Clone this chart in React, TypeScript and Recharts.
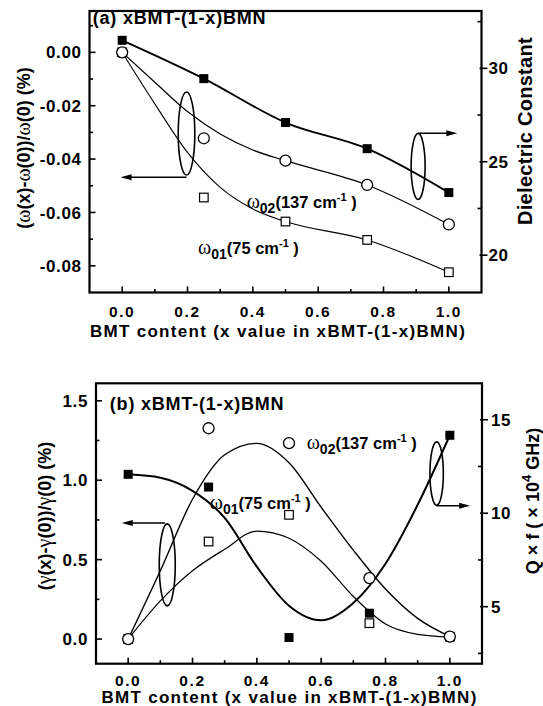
import React from 'react';
import { ComposedChart, Line, Scatter, XAxis, YAxis, ReferenceDot, ReferenceLine } from 'recharts';

// ---------- data ----------
const X_CONTENT = [0, 0.25, 0.5, 0.75, 1.0];

// Panel (a)
const A_DIELECTRIC = [31.5, 29.45, 27.1, 25.7, 23.35];
const A_OMEGA02 = [0, -0.0322, -0.0406, -0.0497, -0.0645];
const A_OMEGA01 = [0, -0.0544, -0.0634, -0.0703, -0.0824];
const A_FIT_X = [0, 0.1, 0.2, 0.3, 0.4, 0.5, 0.75, 1.0];
const A_FIT02 = [0, -0.0112, -0.0222, -0.0306, -0.0366, -0.0406, -0.0497, -0.0645];
const A_FIT01 = [0, -0.0193, -0.0375, -0.0506, -0.0587, -0.0634, -0.0703, -0.0824];

// Panel (b)
const B_QF = [12.08, 11.4, 3.35, 4.65, 14.17];
const B_GAMMA02 = [0, 1.327, 1.233, 0.384, 0.016];
const B_GAMMA01 = [0, 0.614, 0.782, 0.1, 0.015];
const B_FIT_X = [0, 0.1, 0.2, 0.3, 0.4, 0.5, 0.6, 0.7, 0.8, 0.9, 1.0];
const B_FITQ = [12.08, 11.9, 11.2, 9.75, 7.14, 5.05, 4.27, 5.2, 7.3, 10.45, 14.17];
const B_FIT02 = [0, 0.43, 0.88, 1.16, 1.232, 1.11, 0.83, 0.56, 0.315, 0.13, 0.016];
const B_FIT01 = [0, 0.24, 0.43, 0.565, 0.68, 0.635, 0.49, 0.268, 0.095, 0.03, 0.013];

// axis domains and ticks
const X_DOMAIN = [-0.1, 1.1];
const A_LEFT_DOMAIN = [-0.09, 0.0155];
const A_RIGHT_DOMAIN = [18, 33.07];
const B_LEFT_DOMAIN = [-0.155, 1.61];
const B_RIGHT_DOMAIN = [1.95, 16.95];
const X_TICKS = [0, 0.1, 0.2, 0.3, 0.4, 0.5, 0.6, 0.7, 0.8, 0.9, 1.0];
const X_MAJOR = [0, 0.2, 0.4, 0.6, 0.8, 1.0];
const A_LEFT_TICKS = [0.01, 0, -0.01, -0.02, -0.03, -0.04, -0.05, -0.06, -0.07, -0.08];
const A_LEFT_MAJOR = [0, -0.02, -0.04, -0.06, -0.08];
const A_RIGHT_TICKS = [20, 22.5, 25, 27.5, 30, 32.5];
const A_RIGHT_MAJOR = [20, 25, 30];
const B_LEFT_TICKS = [0, 0.25, 0.5, 0.75, 1.0, 1.25, 1.5];
const B_LEFT_MAJOR = [0, 0.5, 1.0, 1.5];
const B_RIGHT_TICKS = [2.5, 5, 7.5, 10, 12.5, 15];
const B_RIGHT_MAJOR = [5, 10, 15];

// texts
const TITLE_A = '(a) xBMT-(1-x)BMN';
const TITLE_B = '(b) xBMT-(1-x)BMN';
const X_TITLE = 'BMT content (x value in xBMT-(1-x)BMN)';
const MODE02 = { sub: '02', freq: '137' };
const MODE01 = { sub: '01', freq: '75' };

// ---------- layout ----------
const W = 543;
const A_H = 340;
const B_H = 366;
const B_TOP = 340;
const A_BOX = { left: 89.5, right: 481.5, top: 11, bottom: 292.5 };
const B_BOX = { left: 96, right: 482, top: 43.3, bottom: 323.7 };

// ---------- helpers ----------
const SANS = "'Liberation Sans', Arial, Helvetica, sans-serif";
const SERIF = "'Liberation Serif', 'DejaVu Serif', serif";
const zip = (xs: number[], ys: number[]) => xs.map((x, i) => ({ x, y: ys[i] }));
const isMajor = (v: number, majors: number[]) => majors.some((m) => Math.abs(m - v) < 1e-9);

const makeTick = (side: string, majors: number[], fmt: (v: number) => string, gap: number) => (props: any) => {
  const { x, y, payload } = props;
  const v = payload.value;
  const major = isMajor(v, majors);
  const len = major ? 6 : 3.5;
  let line: any = null;
  let label: any = null;
  const tp = { fontFamily: SANS, fontWeight: 'bold' as const, fontSize: 17, fill: '#000', letterSpacing: 0.6 };
  if (side === 'bottom') {
    line = <line x1={x} y1={y} x2={x} y2={y - len} stroke="#000" strokeWidth={1.6} />;
    if (major) label = <text x={x} y={y + gap} dy="0.36em" textAnchor="middle" {...tp} fontSize={15.5} letterSpacing={1.6}>{fmt(v)}</text>;
  } else if (side === 'top') {
    line = <line x1={x} y1={y} x2={x} y2={y + len} stroke="#000" strokeWidth={1.6} />;
  } else if (side === 'left') {
    line = <line x1={x} y1={y} x2={x + len} y2={y} stroke="#000" strokeWidth={1.6} />;
    if (major) label = <text x={x - gap} y={y} dy="0.36em" textAnchor="end" {...tp}>{fmt(v)}</text>;
  } else {
    line = major
      ? <line x1={x - 2} y1={y} x2={x + 6} y2={y} stroke="#000" strokeWidth={1.6} />
      : <line x1={x} y1={y} x2={x - 4} y2={y} stroke="#000" strokeWidth={1.6} />;
    if (major) label = <text x={x + gap} y={y} dy="0.36em" textAnchor="start" {...tp}>{fmt(v)}</text>;
  }
  return <g>{line}{label}</g>;
};

const filledSquare = (p: any) => <rect x={p.cx - 4.5} y={p.cy - 4.5} width={9} height={9} fill="#000" />;
const openCircle = (p: any) => <circle cx={p.cx} cy={p.cy} r={5.5} fill="#fff" stroke="#000" strokeWidth={1.3} />;
const openSquare = (p: any) => <rect x={p.cx - 4.3} y={p.cy - 4.3} width={8.6} height={8.6} fill="#fff" stroke="#000" strokeWidth={1.2} />;

const ellipseShape = (rx: number, ry: number) => (p: any) => (
  <ellipse cx={p.cx} cy={p.cy} rx={rx} ry={ry} fill="none" stroke="#000" strokeWidth={1.6} />
);

const arrowShape = (p: any) => {
  const { x1, y1, x2, y2 } = p;
  const dir = x2 > x1 ? 1 : -1;
  return (
    <g>
      <line x1={x1} y1={y1} x2={x2 - dir * 6} y2={y2} stroke="#000" strokeWidth={1.5} />
      <polygon points={`${x2},${y2} ${x2 - dir * 11},${y2 - 3} ${x2 - dir * 11},${y2 + 3}`} fill="#000" />
    </g>
  );
};

const titleShape = (txt: string) => (p: any) => (
  <text x={p.cx} y={p.cy} dy="0.36em" fontFamily={SANS} fontWeight="bold" fontSize={18} letterSpacing={0.8} fill="#000">{txt}</text>
);

const modeShape = (mode: { sub: string; freq: string }) => (p: any) => (
  <text x={p.cx} y={p.cy} dy="0.36em" fontFamily={SANS} fontWeight="bold" fontSize={16.5} fill="#000">
    <tspan fontFamily={SERIF} fontWeight="normal" fontSize={20}>ω</tspan>
    <tspan fontSize={14} dy={5}>{mode.sub}</tspan>
    <tspan dy={-5}>({mode.freq} cm</tspan>
    <tspan fontSize={11} dy={-7}>-1</tspan>
    <tspan dy={7}> )</tspan>
  </text>
);

const fmt2 = (v: number) => (v === 0 ? '0.00' : v.toFixed(2));
const fmt1 = (v: number) => v.toFixed(1);
const fmt0 = (v: number) => String(v);

function PanelA() {
  return (
    <ComposedChart width={W} height={A_H} margin={{ top: A_BOX.top, right: 0, bottom: 0, left: 0 }}>
      <XAxis xAxisId="bottom" type="number" dataKey="x" domain={X_DOMAIN} ticks={X_TICKS} interval={0}
        tickSize={0} tickMargin={0} tickLine={false} axisLine={false} height={A_H - A_BOX.bottom}
        tick={makeTick('bottom', X_MAJOR, fmt1, 19)} allowDataOverflow />
      <XAxis xAxisId="top" orientation="top" type="number" dataKey="x" domain={X_DOMAIN} ticks={X_TICKS} interval={0}
        tickSize={0} tickMargin={0} tickLine={false} axisLine={false} height={0}
        tick={makeTick('top', X_MAJOR, fmt1, 0)} allowDataOverflow />
      <YAxis yAxisId="left" type="number" domain={A_LEFT_DOMAIN} ticks={A_LEFT_TICKS} interval={0}
        tickSize={0} tickMargin={0} tickLine={false} axisLine={false} width={A_BOX.left}
        tick={makeTick('left', A_LEFT_MAJOR, fmt2, 8)} allowDataOverflow />
      <YAxis yAxisId="right" orientation="right" type="number" domain={A_RIGHT_DOMAIN} ticks={A_RIGHT_TICKS} interval={0}
        tickSize={0} tickMargin={0} tickLine={false} axisLine={false} width={W - A_BOX.right}
        tick={makeTick('right', A_RIGHT_MAJOR, fmt0, 7)} allowDataOverflow />

      <Line xAxisId="bottom" yAxisId="right" data={zip(X_CONTENT, A_DIELECTRIC)} dataKey="y" type="monotone"
        stroke="#000" strokeWidth={1.9} dot={false} isAnimationActive={false} />
      <Line xAxisId="bottom" yAxisId="left" data={zip(A_FIT_X, A_FIT02)} dataKey="y" type="monotone"
        stroke="#000" strokeWidth={1.2} dot={false} isAnimationActive={false} />
      <Line xAxisId="bottom" yAxisId="left" data={zip(A_FIT_X, A_FIT01)} dataKey="y" type="monotone"
        stroke="#000" strokeWidth={1.1} dot={false} isAnimationActive={false} />

      <ReferenceDot xAxisId="bottom" yAxisId="left" x={0.197} y={-0.0304} r={1} shape={ellipseShape(8.3, 41.5)} />
      <ReferenceLine xAxisId="bottom" yAxisId="left" segment={[{ x: 0.197, y: -0.0468 }, { x: -0.005, y: -0.0468 }]} shape={arrowShape} />
      <ReferenceDot xAxisId="bottom" yAxisId="right" x={0.906} y={24.75} r={1} shape={ellipseShape(7, 33)} />
      <ReferenceLine xAxisId="bottom" yAxisId="right" segment={[{ x: 0.906, y: 26.52 }, { x: 1.026, y: 26.52 }]} shape={arrowShape} />

      <Scatter xAxisId="bottom" yAxisId="left" data={zip(X_CONTENT, A_OMEGA01)} dataKey="y" shape={openSquare} isAnimationActive={false} />
      <Scatter xAxisId="bottom" yAxisId="left" data={zip(X_CONTENT, A_OMEGA02)} dataKey="y" shape={openCircle} isAnimationActive={false} />
      <Scatter xAxisId="bottom" yAxisId="right" data={zip(X_CONTENT, A_DIELECTRIC)} dataKey="y" shape={filledSquare} isAnimationActive={false} />

      <ReferenceDot xAxisId="bottom" yAxisId="left" x={-0.09} y={0.0131} r={1} shape={titleShape(TITLE_A)} />
      <ReferenceDot xAxisId="bottom" yAxisId="left" x={0.381} y={-0.0562} r={1} shape={modeShape(MODE02)} />
      <ReferenceDot xAxisId="bottom" yAxisId="left" x={0.232} y={-0.0735} r={1} shape={modeShape(MODE01)} />
    </ComposedChart>
  );
}

function PanelB() {
  return (
    <ComposedChart width={W} height={B_H} margin={{ top: B_BOX.top, right: 0, bottom: 0, left: 0 }}>
      <XAxis xAxisId="bottom" type="number" dataKey="x" domain={X_DOMAIN} ticks={X_TICKS} interval={0}
        tickSize={0} tickMargin={0} tickLine={false} axisLine={false} height={B_H - B_BOX.bottom}
        tick={makeTick('bottom', X_MAJOR, fmt1, 17)} allowDataOverflow />
      <XAxis xAxisId="top" orientation="top" type="number" dataKey="x" domain={X_DOMAIN} ticks={X_TICKS} interval={0}
        tickSize={0} tickMargin={0} tickLine={false} axisLine={false} height={0}
        tick={makeTick('top', X_MAJOR, fmt1, 0)} allowDataOverflow />
      <YAxis yAxisId="left" type="number" domain={B_LEFT_DOMAIN} ticks={B_LEFT_TICKS} interval={0}
        tickSize={0} tickMargin={0} tickLine={false} axisLine={false} width={B_BOX.left}
        tick={makeTick('left', B_LEFT_MAJOR, fmt1, 8)} allowDataOverflow />
      <YAxis yAxisId="right" orientation="right" type="number" domain={B_RIGHT_DOMAIN} ticks={B_RIGHT_TICKS} interval={0}
        tickSize={0} tickMargin={0} tickLine={false} axisLine={false} width={W - B_BOX.right}
        tick={makeTick('right', B_RIGHT_MAJOR, fmt0, 9)} allowDataOverflow />

      <Line xAxisId="bottom" yAxisId="right" data={zip(B_FIT_X, B_FITQ)} dataKey="y" type="monotone"
        stroke="#000" strokeWidth={2} dot={false} isAnimationActive={false} />
      <Line xAxisId="bottom" yAxisId="left" data={zip(B_FIT_X, B_FIT02)} dataKey="y" type="monotone"
        stroke="#000" strokeWidth={1.4} dot={false} isAnimationActive={false} />
      <Line xAxisId="bottom" yAxisId="left" data={zip(B_FIT_X, B_FIT01)} dataKey="y" type="monotone"
        stroke="#000" strokeWidth={1.2} dot={false} isAnimationActive={false} />

      <ReferenceDot xAxisId="bottom" yAxisId="left" x={0.1215} y={0.467} r={1} shape={ellipseShape(8, 41)} />
      <ReferenceLine xAxisId="bottom" yAxisId="left" segment={[{ x: 0.115, y: 0.73 }, { x: -0.02, y: 0.73 }]} shape={arrowShape} />
      <ReferenceDot xAxisId="bottom" yAxisId="right" x={0.959} y={12.12} r={1} shape={ellipseShape(6.7, 31.7)} />
      <ReferenceLine xAxisId="bottom" yAxisId="right" segment={[{ x: 0.959, y: 10.4 }, { x: 1.063, y: 10.4 }]} shape={arrowShape} />

      <Scatter xAxisId="bottom" yAxisId="left" data={zip(X_CONTENT, B_GAMMA01)} dataKey="y" shape={openSquare} isAnimationActive={false} />
      <Scatter xAxisId="bottom" yAxisId="left" data={zip(X_CONTENT, B_GAMMA02)} dataKey="y" shape={openCircle} isAnimationActive={false} />
      <Scatter xAxisId="bottom" yAxisId="right" data={zip(X_CONTENT, B_QF)} dataKey="y" shape={filledSquare} isAnimationActive={false} />

      <ReferenceDot xAxisId="bottom" yAxisId="left" x={-0.057} y={1.484} r={1} shape={titleShape(TITLE_B)} />
      <ReferenceDot xAxisId="bottom" yAxisId="left" x={0.555} y={1.233} r={1} shape={modeShape(MODE02)} />
      <ReferenceDot xAxisId="bottom" yAxisId="left" x={0.254} y={0.855} r={1} shape={modeShape(MODE01)} />
    </ComposedChart>
  );
}

const TT = { fontFamily: SANS, fontWeight: 'bold' as const, fill: '#000' };
const Sym = ({ c }: { c: string }) => <tspan fontFamily={SERIF} fontWeight="normal" fontSize={20}>{c}</tspan>;

function Overlay() {
  return (
    <svg width={W} height={706} style={{ position: 'absolute', left: 0, top: 0, pointerEvents: 'none' }}>
      {/* plot frames */}
      <rect x={A_BOX.left} y={A_BOX.top} width={A_BOX.right - A_BOX.left} height={A_BOX.bottom - A_BOX.top}
        fill="none" stroke="#000" strokeWidth={2.2} />
      <rect x={B_BOX.left} y={B_TOP + B_BOX.top} width={B_BOX.right - B_BOX.left} height={B_BOX.bottom - B_BOX.top}
        fill="none" stroke="#000" strokeWidth={2.2} />
      {/* panel a */}
      <text transform="translate(24,148) rotate(-90)" textAnchor="middle" dy="0.36em" fontSize={18} {...TT}>
        (<Sym c="ω" />(x)-<Sym c="ω" />(0))/<Sym c="ω" />(0) (%)
      </text>
      <text transform="translate(525,131) rotate(-90)" textAnchor="middle" dy="0.36em" fontSize={20} letterSpacing={0.3} {...TT}>
        Dielectric Constant
      </text>
      <text x={278} y={330.5} textAnchor="middle" dy="0.36em" fontSize={17} letterSpacing={1.3} {...TT}>{X_TITLE}</text>
      {/* panel b */}
      <text transform="translate(45,516) rotate(-90)" textAnchor="middle" dy="0.36em" fontSize={18} {...TT}>
        (<Sym c="γ" />(x)-<Sym c="γ" />(0))/<Sym c="γ" />(0) (%)
      </text>
      <text transform="translate(533,501) rotate(-90)" textAnchor="middle" dy="0.36em" fontSize={18} {...TT}>
        Q × f ( × 10<tspan fontSize={13} dy={-8}>4</tspan><tspan dy={8}> GHz)</tspan>
      </text>
      <text x={289.5} y={696.5} textAnchor="middle" dy="0.36em" fontSize={17} letterSpacing={1.3} {...TT}>{X_TITLE}</text>
    </svg>
  );
}

export default function App() {
  return (
    <div style={{ position: 'absolute', left: 0, top: 0, width: W, height: 706, background: '#fff', overflow: 'hidden' }}>
      <div style={{ position: 'absolute', left: 0, top: 0 }}>
        <PanelA />
      </div>
      <div style={{ position: 'absolute', left: 0, top: B_TOP }}>
        <PanelB />
      </div>
      <Overlay />
    </div>
  );
}
